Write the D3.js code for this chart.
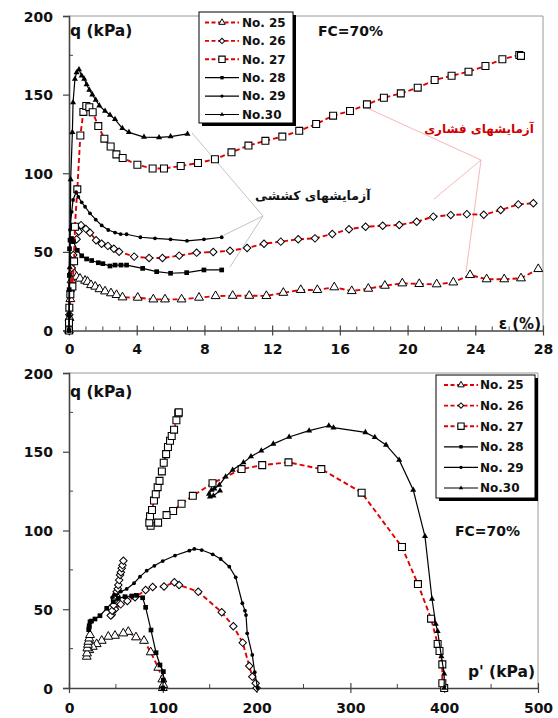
<!DOCTYPE html>
<html>
<head>
<meta charset="utf-8">
<script src="https://cdn.jsdelivr.net/npm/d3@7"></script>
<style>
  html, body { margin: 0; padding: 0; background: #fff; }
  svg { display: block; }
  text { font-family: "DejaVu Sans", Arial, sans-serif; font-weight: bold; fill: #111; }
</style>
</head>
<body>
<svg id="chart" width="558" height="718"></svg>
<script>
// ---------- data ----------
const seriesNames = ["No. 25", "No. 26", "No. 27", "No. 28", "No. 29", "No.30"];

// strain (%) vs deviator stress q (kPa)
const strain25 = [[0,0],[0.03,8],[0.08,20],[0.15,32],[0.22,38],[0.3,36.4],[0.45,34.2],[0.65,33],[0.95,31.7],[1.1,31],[1.3,28.9],[1.55,27.9],[1.8,26.3],[2.13,24.9],[2.48,23.7],[2.81,22.6],[3.16,21.1],[4.06,20.9],[4.98,19.8],[5.67,19.8],[6.65,19.8],[7.68,20.9],[8.66,21.9],[9.67,22.1],[10.65,22.1],[11.66,22],[12.66,24],[13.69,25.8],[14.67,25.8],[15.67,27.5],[16.7,25.1],[17.68,26.6],[18.66,28.5],[19.69,30],[20.69,29.6],[21.72,29.4],[22.7,30.6],[23.69,35.3],[24.67,32.6],[25.71,32.6],[26.7,33.2],[27.72,39.1]];
const strain26 = [[0,0],[0.02,10],[0.1,25],[0.16,39.7],[0.25,48],[0.45,58],[0.57,63],[0.71,67],[1.0,64.6],[1.24,62.2],[1.6,57.4],[1.93,55.2],[2.3,53.8],[2.65,52],[2.96,50.1],[3.85,47],[4.73,46.1],[5.52,46.1],[6.51,47.6],[7.54,49.5],[8.52,49.9],[9.51,50.7],[10.52,52.5],[11.52,55.2],[12.51,56.5],[13.54,58],[14.53,58.6],[15.55,61.4],[16.54,64.4],[17.52,66],[18.53,66.6],[19.51,67.1],[20.54,69.2],[21.52,72.4],[22.55,73.4],[23.5,74],[24.5,73.6],[25.5,76.6],[26.54,80.2],[27.43,80.9]];
const strain27 = [[0,0],[0,5],[0.02,14.5],[0.08,23],[0.2,28],[0.3,44],[0.35,66],[0.49,89.8],[0.67,124],[0.85,139],[1.02,142.8],[1.2,142],[1.4,138.8],[1.73,130],[2.09,122],[2.46,117],[2.8,112],[3.17,109.7],[4.04,105.4],[4.94,103],[5.61,103],[6.6,104.6],[7.62,106.5],[8.62,108.9],[9.6,113.3],[10.6,117.6],[11.6,120.6],[12.6,123.3],[13.6,127],[14.6,131.3],[15.6,136.6],[16.6,139.6],[17.6,143.8],[18.6,148],[19.6,150.8],[20.6,154.4],[21.6,159.3],[22.6,162],[23.6,164.6],[24.6,168.2],[25.6,172.5],[26.6,175.2],[26.7,174.6]];
const strain28 = [[0,0],[0,10],[0.01,26],[0.02,35],[0.03,52],[0.06,57.5],[0.15,58.5],[0.26,56.5],[0.49,51],[0.75,47.5],[1.04,45.5],[1.34,44.5],[1.73,43.1],[2.0,42.5],[2.42,41],[2.72,41.6],[3.07,41.6],[3.4,41.6],[4.35,39.5],[5.18,37.4],[6.0,36.4],[6.95,36.8],[7.97,38.5],[9.02,38.5]];
const strain29 = [[0,0],[0.01,10],[0.02,36],[0.06,64],[0.16,75.5],[0.24,83],[0.42,88],[0.55,85],[0.75,81.5],[0.95,78.7],[1.24,74.5],[1.58,70.5],[1.93,66.8],[2.32,63.9],[2.72,62.3],[3.05,61.3],[3.4,61.2],[4.22,59.3],[5.08,58.6],[6.0,58],[6.97,57],[7.97,58],[9.02,59.3]];
const strain30 = [[0,0],[0.02,10],[0.05,40],[0.1,96],[0.2,126],[0.24,145],[0.35,160],[0.45,164],[0.59,166],[0.75,162],[0.9,160],[1.04,156.5],[1.2,153],[1.38,150],[1.58,146.6],[1.79,143],[2.13,139.6],[2.42,137],[2.72,134.3],[3.15,128.6],[3.54,126],[4.43,123],[5.32,122.8],[6.0,123.3],[7.0,125]];

// effective mean stress p' (kPa) vs q (kPa)
const path25 = [[100,0],[100.6,2],[99.5,5.5],[95.2,12.9],[87.1,22.7],[80,30],[71.4,32.2],[63.2,35.7],[57.9,34.7],[49,33.2],[41.9,32.6],[34.9,30],[29.5,27.9],[25.3,26.2],[21.6,24.1],[18.9,19.9],[19.2,22],[19.5,25.2],[20.2,27.5],[20.6,29.4],[21.5,31.5],[22.4,33.7]];
const path26 = [[200,0],[199,3],[195.4,7.2],[192.2,14],[185.2,28.8],[175.2,39.2],[162.8,48.1],[137.8,61.1],[117.3,65.4],[112.3,67.1],[101.3,64.4],[89.2,64.1],[81.7,62.2],[70.4,57.6],[62.2,55.2],[55.1,53.1],[49,50],[45.5,46.5],[44.5,46],[46,49],[47.5,52.5],[49,55.9],[50.3,58.5],[50.8,61.1],[52,63],[52.6,65.4],[53.5,68.5],[54.4,71.7],[55.3,73.5],[56.2,76],[57,78],[58,80.8]];
const path27 = [[400,0],[398,3],[398,15],[395,23.5],[393,28],[386,44],[372,66],[355,89.5],[312,124],[269,139],[234,143.3],[206,141.5],[184,139],[153,130],[132,122],[120,117],[111,112.4],[104,109.8],[95,105],[87,103],[85.6,105],[86.4,109],[88.5,113],[90.6,119],[92.5,123],[94.5,127.5],[96.5,131.5],[99,137.5],[101,143],[103.5,148.5],[105.5,153],[107.7,157],[109.5,160],[112,164],[114.5,170],[116.5,174.4],[117,175]];
const path28 = [[100,0],[100.5,5],[100.6,10.4],[97,14.6],[92.8,22.4],[87.4,36.8],[81.7,51.2],[78.5,57.3],[72,58.8],[66.8,58.4],[59.7,58],[52.6,56.9],[47.2,54.8],[40.2,50.6],[33,45.9],[27.7,43.8],[24,42.5],[22.4,42],[21.6,39.5],[21,37],[21.5,38.5]];
const path29 = [[201,0],[198,10],[195.4,21],[190,34.7],[188.7,46.3],[187.6,49.1],[184.8,53.8],[177.7,70.3],[170.9,77],[161.7,81.9],[153.2,84.9],[141.5,87.6],[133.6,88.3],[128.3,87.2],[113,84.1],[99.9,80.6],[91,77.6],[82.8,74.5],[75.7,70.7],[69.3,66.5],[61.5,62.9],[55.4,61.2],[50,59],[46,57.5],[48,59.3]];
const path30 = [[400,0],[400,9],[397,20],[393,36],[391,40.6],[387,56.5],[379.5,96.3],[367,125.7],[352,144.8],[338,154.3],[326,159.2],[316,162.3],[282,165.3],[277,166.5],[256,163.4],[234.7,159.4],[217.8,155],[205,150.6],[194,147],[186,143.1],[174.5,138.4],[167,134.2],[160.3,128.9],[155,126.5],[152,125.7],[149.3,123.2],[150.3,121.5],[154,122.1],[161,125.3]];

// axis ticks
const strainTicks = [0, 4, 8, 12, 16, 20, 24, 28];
const qTicks = [0, 50, 100, 150, 200];
const pTicks = [0, 100, 200, 300, 400, 500];

// annotation labels (Persian): compression tests / tension tests
const compressionLabel = "آزمایشهای فشاری";
const tensionLabel = "آزمایشهای کششی";
// leader lines: hub point and targets, in [strain, q]
const tensionHub = [11.46, 72.8];
const tensionTargets = [[7.27, 125.6], [9.16, 60.7], [9.51, 40.4]];
const compressionHub = [24.34, 108.4];
const compressionTargets = [[17.6, 141.5], [21.56, 83.6], [23.45, 37.2]];

// ---------- styles ----------
const RED = "#e00000";
const styles = [
  { dashed: true,  marker: "triOpen" },
  { dashed: true,  marker: "diamond" },
  { dashed: true,  marker: "square" },
  { dashed: false, marker: "sqFill" },
  { dashed: false, marker: "dot" },
  { dashed: false, marker: "triFill" }
];

const svg = d3.select("#chart");

function drawMarker(g, type, x, y, big) {
  const k = big ? 1 : 0.72;
  if (type === "triOpen") {
    g.append("path").attr("d", d3.symbol(d3.symbolTriangle, 34 * k * k)())
      .attr("transform", `translate(${x},${y})`)
      .attr("fill", "#fff").attr("stroke", "#000").attr("stroke-width", 1);
  } else if (type === "diamond") {
    g.append("path").attr("d", d3.symbol(d3.symbolSquare, 28 * k * k)())
      .attr("transform", `translate(${x},${y}) rotate(45)`)
      .attr("fill", "#fff").attr("stroke", "#000").attr("stroke-width", 1);
  } else if (type === "square") {
    g.append("path").attr("d", d3.symbol(d3.symbolSquare, big ? 48 : 40)())
      .attr("transform", `translate(${x},${y})`)
      .attr("fill", "#fff").attr("stroke", "#000").attr("stroke-width", 1.1);
  } else if (type === "sqFill") {
    g.append("path").attr("d", d3.symbol(d3.symbolSquare, 22 * k * k)())
      .attr("transform", `translate(${x},${y})`).attr("fill", "#000");
  } else if (type === "dot") {
    g.append("circle").attr("cx", x).attr("cy", y).attr("r", big ? 1.9 : 1.6).attr("fill", "#000");
  } else if (type === "triFill") {
    g.append("path").attr("d", d3.symbol(d3.symbolTriangle, 16 * k * k)())
      .attr("transform", `translate(${x},${y})`).attr("fill", "#000");
  }
}

function drawPanel(cfg) {
  const { x, y, data, xTicks, xMinorStep, xLabelY } = cfg;
  const g = svg.append("g");
  const [x0, x1] = x.range();
  const [y0, y1] = y.range();

  // frame (top and right in grey)
  g.append("path").attr("d", `M${x0},${y1}H${x1}V${y0}`)
    .attr("fill", "none").attr("stroke", "#9a9a9a").attr("stroke-width", 1);

  // minor ticks
  const xd = x.domain();
  for (let v = xd[0]; v <= xd[1] + 1e-9; v += xMinorStep) {
    if (xTicks.includes(Math.round(v * 1000) / 1000)) continue;
    g.append("line").attr("x1", x(v)).attr("x2", x(v)).attr("y1", y0).attr("y2", y0 - 4)
      .attr("stroke", "#444").attr("stroke-width", 1);
  }
  for (let v = 25; v < 200; v += 50) {
    g.append("line").attr("x1", x0).attr("x2", x0 + 4).attr("y1", y(v)).attr("y2", y(v))
      .attr("stroke", "#444").attr("stroke-width", 1);
  }

  // axes
  const yAxis = d3.axisLeft(y).tickValues(qTicks).tickSize(6).tickPadding(10);
  const gy = g.append("g").attr("transform", `translate(${x0},0)`).call(yAxis);
  gy.select(".domain").attr("stroke", "#444").attr("stroke-width", 1.6);
  gy.selectAll(".tick line").attr("stroke", "#444").attr("stroke-width", 1.2);
  gy.selectAll(".tick text").attr("font-size", 14).attr("font-family", "DejaVu Sans")
    .attr("font-weight", "bold").attr("fill", "#111").attr("dy", "0.36em");

  const xAxis = d3.axisBottom(x).tickValues(xTicks).tickSize(0).tickPadding(0);
  const gx = g.append("g").attr("transform", `translate(0,${y0})`).call(xAxis);
  gx.select(".domain").attr("stroke", "#444").attr("stroke-width", 1.6);
  gx.selectAll(".tick line").remove();
  gx.selectAll(".tick").append("line").attr("y1", -5).attr("y2", 5)
    .attr("stroke", "#444").attr("stroke-width", 1.2);
  gx.selectAll(".tick text").attr("font-size", 14).attr("font-family", "DejaVu Sans")
    .attr("font-weight", "bold").attr("fill", "#111").attr("dy", null).attr("y", xLabelY);

  // curves
  const line = d3.line().x(d => x(d[0])).y(d => y(d[1]));
  data.forEach((pts, i) => {
    const st = styles[i];
    g.append("path").attr("d", line(pts)).attr("fill", "none")
      .attr("stroke", st.dashed ? RED : "#000")
      .attr("stroke-width", st.dashed ? 1.9 : 1.2)
      .attr("stroke-dasharray", st.dashed ? "5,3" : null);
    const mg = g.append("g");
    pts.forEach(d => drawMarker(mg, st.marker, x(d[0]), y(d[1]), true));
  });
  return g;
}

function drawLegend(bx, by, bw, bh, rowY0, rowStep, lineX0, lineX1, textX) {
  const g = svg.append("g");
  g.append("rect").attr("x", bx + 3).attr("y", by + 3).attr("width", bw).attr("height", bh).attr("fill", "#000");
  g.append("rect").attr("x", bx).attr("y", by).attr("width", bw).attr("height", bh)
    .attr("fill", "#fff").attr("stroke", "#000").attr("stroke-width", 1);
  seriesNames.forEach((name, i) => {
    const st = styles[i];
    const yy = rowY0 + i * rowStep;
    g.append("line").attr("x1", lineX0).attr("x2", lineX1).attr("y1", yy).attr("y2", yy)
      .attr("stroke", st.dashed ? RED : "#000").attr("stroke-width", st.dashed ? 1.9 : 1.2)
      .attr("stroke-dasharray", st.dashed ? "4,2.5" : null);
    drawMarker(g, st.marker, (lineX0 + lineX1) / 2, yy, false);
    g.append("text").attr("x", textX).attr("y", yy).attr("dy", "0.36em")
      .attr("font-size", 12).text(name);
  });
}

// ---------- top panel: q vs axial strain ----------
const xTop = d3.scaleLinear().domain([0, 28]).range([69, 543]);
const yTop = d3.scaleLinear().domain([0, 200]).range([330.5, 16]);

// leader lines drawn beneath the curves
const lead = svg.append("g");
tensionTargets.forEach(t => lead.append("line")
  .attr("x1", xTop(tensionHub[0])).attr("y1", yTop(tensionHub[1]))
  .attr("x2", xTop(t[0])).attr("y2", yTop(t[1]))
  .attr("stroke", "#b4b4b4").attr("stroke-width", 0.8));
compressionTargets.forEach(t => lead.append("line")
  .attr("x1", xTop(compressionHub[0])).attr("y1", yTop(compressionHub[1]))
  .attr("x2", xTop(t[0])).attr("y2", yTop(t[1]))
  .attr("stroke", "#f4a6a6").attr("stroke-width", 0.8));

drawPanel({
  x: xTop, y: yTop,
  data: [strain25, strain26, strain27, strain28, strain29, strain30],
  xTicks: strainTicks, xMinorStep: 1, xLabelY: 23
});

svg.append("text").attr("x", 70).attr("y", 36).attr("font-size", 15.5).text("q (kPa)");
svg.append("text").attr("x", 318).attr("y", 36).attr("font-size", 14).text("FC=70%");
svg.append("text").attr("x", 541).attr("y", 329).attr("text-anchor", "end").attr("font-size", 15).text("ε (%)");
svg.append("text").attr("x", xTop(24.22)).attr("y", yTop(128.7) + 5).attr("text-anchor", "middle")
  .attr("font-size", 12).attr("direction", "rtl").style("fill", "#d00000").text(compressionLabel);
svg.append("text").attr("x", xTop(14.4)).attr("y", yTop(86.2) + 5).attr("text-anchor", "middle")
  .attr("font-size", 12.5).attr("direction", "rtl").text(tensionLabel);

drawLegend(199, 12, 94, 111, 22.5, 18.4, 205, 239, 242);

// ---------- bottom panel: stress paths in p'-q plane ----------
const xBot = d3.scaleLinear().domain([0, 500]).range([69, 538]);
const yBot = d3.scaleLinear().domain([0, 200]).range([688, 373]);

drawPanel({
  x: xBot, y: yBot,
  data: [path25, path26, path27, path28, path29, path30],
  xTicks: pTicks, xMinorStep: 50, xLabelY: 25
});

svg.append("text").attr("x", 70).attr("y", 397).attr("font-size", 15.5).text("q (kPa)");
svg.append("text").attr("x", 455).attr("y", 536).attr("font-size", 14).text("FC=70%");
svg.append("text").attr("x", 535).attr("y", 677).attr("text-anchor", "end").attr("font-size", 15.5).text("p' (kPa)");

drawLegend(436, 375, 99, 123, 385, 20.6, 444, 478, 480);
</script>
</body>
</html>
